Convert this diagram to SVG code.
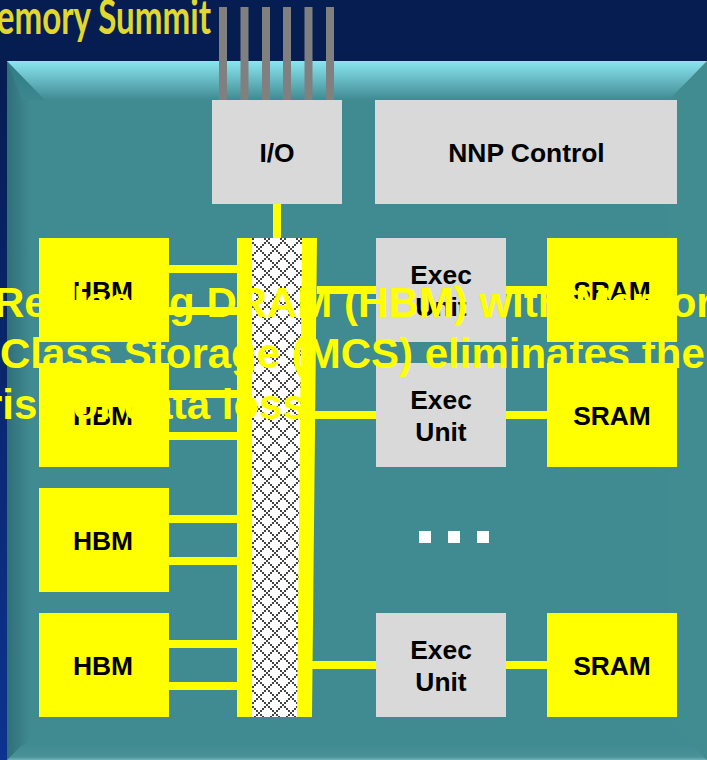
<svg xmlns="http://www.w3.org/2000/svg" width="707" height="760" viewBox="0 0 707 760">
<defs>
<linearGradient id="side" x1="0" y1="0" x2="0" y2="1"><stop offset="0" stop-color="#061d52"/><stop offset="1" stop-color="#0c3390"/></linearGradient>
<linearGradient id="bt" x1="0" y1="0" x2="0" y2="1"><stop offset="0" stop-color="#8ae6f0"/><stop offset="1" stop-color="#408a92"/></linearGradient>
<linearGradient id="bl" gradientUnits="userSpaceOnUse" x1="7" y1="0" x2="30" y2="0"><stop offset="0" stop-color="#2f6f78"/><stop offset="1" stop-color="#408a92"/></linearGradient>
<linearGradient id="tl" gradientUnits="userSpaceOnUse" x1="7" y1="61" x2="7" y2="110"><stop offset="0" stop-color="#2f7c84"/><stop offset="1" stop-color="#408a92"/></linearGradient>
<linearGradient id="bb" x1="0" y1="0" x2="0" y2="1"><stop offset="0" stop-color="#408a92"/><stop offset="0.8" stop-color="#4a9298"/><stop offset="1" stop-color="#70b4ba"/></linearGradient>
<pattern id="lattice" x="250" y="240" width="16" height="16" patternUnits="userSpaceOnUse">
<rect width="16" height="16" fill="#fff"/>
<path d="M0 0h2v2H0zM2 2h2v2H2zM4 4h2v2H4zM6 6h2v2H6zM8 8h2v2H8zM10 10h2v2h-2zM12 12h2v2h-2zM14 14h2v2h-2zM14 2h2v2h-2zM12 4h2v2h-2zM10 6h2v2h-2zM6 10h2v2H6zM4 12h2v2H4zM2 14h2v2H2z" fill="#444"/>
</pattern>
<style>
.lbl{font-family:"Liberation Sans",Arial,sans-serif;font-weight:bold;font-size:26.4px;fill:#000;text-anchor:middle}
.y{fill:#ff0}.g{fill:#d9d9d9}
.ov{font-family:"Liberation Sans",Arial,sans-serif;font-weight:bold;font-size:42px;fill:#ff0}
.c{stroke:#ff0;stroke-width:8;fill:none}
.pin{fill:#808080}
</style>
</defs>
<rect width="707" height="760" fill="#061d52"/>
<rect x="0" y="60" width="7" height="700" fill="url(#side)"/>
<text x="-34" y="34" font-family="Lato,'Liberation Sans',sans-serif" font-weight="700" font-size="47" fill="#e0d82e" textLength="245" lengthAdjust="spacingAndGlyphs">Memory Summit</text>
<g id="panel">
<rect x="7" y="61" width="700" height="699" fill="#408a92"/>
<polygon points="7,61 7,760 30,740 30,84" fill="url(#bl)"/>
<polygon points="7,61 45,100 22,100" fill="url(#tl)"/>
<polygon points="7,61 707,61 669,100 45,100" fill="url(#bt)"/>
<polygon points="707,61 669,100 669,722 707,760" fill="#45908f" opacity="0.35"/>
<polygon points="7,760 22,745 692,745 707,760" fill="url(#bb)"/>
</g>
<g id="connectors">
<path class="c" d="M277 204V238M169 269H237M169 311H237M169 394H237M169 436H237M169 519H237M169 561H237M169 644H237M169 686H237M317 290H376M506 290H547M315 415H376M506 415H547M312 665H376M506 665H547"/>
</g>
<g id="pins">
<rect class="pin" x="219" y="7" width="8" height="93"/>
<rect class="pin" x="240.500" y="7" width="8" height="93"/>
<rect class="pin" x="262" y="7" width="8" height="93"/>
<rect class="pin" x="283" y="7" width="8" height="93"/>
<rect class="pin" x="304.500" y="7" width="8" height="93"/>
<rect class="pin" x="326" y="7" width="8" height="93"/>
</g>
<g id="io"><rect class="g" x="212" y="100" width="130" height="104"/><text class="lbl" x="277" y="162">I/O</text></g>
<g id="nnp-control"><rect class="g" x="375" y="100" width="302" height="104"/><text class="lbl" x="526.500" y="162">NNP Control</text></g>
<g id="bus">
<rect x="252" y="238" width="50" height="479" fill="url(#lattice)" shape-rendering="crispEdges"/>
<rect class="y" x="237" y="238" width="15" height="479"/>
<polygon class="y" points="302,238 317,238 312,717 297,717"/>
</g>
<g id="hbm1"><rect class="y" x="39" y="238" width="130" height="104"/><text class="lbl" x="103" y="300">HBM</text></g>
<g id="hbm2"><rect class="y" x="39" y="363" width="130" height="104"/><text class="lbl" x="103" y="425">HBM</text></g>
<g id="hbm3"><rect class="y" x="39" y="488" width="130" height="104"/><text class="lbl" x="103" y="550">HBM</text></g>
<g id="hbm4"><rect class="y" x="39" y="613" width="130" height="104"/><text class="lbl" x="103" y="675">HBM</text></g>
<g id="exec1"><rect class="g" x="376" y="238" width="130" height="104"/><text class="lbl" x="441" y="284">Exec</text><text class="lbl" x="441" y="316">Unit</text></g>
<g id="exec2"><rect class="g" x="376" y="363" width="130" height="104"/><text class="lbl" x="441" y="409">Exec</text><text class="lbl" x="441" y="441">Unit</text></g>
<g id="exec3"><rect class="g" x="376" y="613" width="130" height="104"/><text class="lbl" x="441" y="659">Exec</text><text class="lbl" x="441" y="691">Unit</text></g>
<g id="sram1"><rect class="y" x="547" y="238" width="130" height="104"/><text class="lbl" x="612" y="300">SRAM</text></g>
<g id="sram2"><rect class="y" x="547" y="363" width="130" height="104"/><text class="lbl" x="612" y="425">SRAM</text></g>
<g id="sram3"><rect class="y" x="547" y="613" width="130" height="104"/><text class="lbl" x="612" y="675">SRAM</text></g>
<g id="ellipsis" fill="#fff"><rect x="419" y="531" width="12" height="12"/><rect x="448" y="531" width="12" height="12"/><rect x="477" y="531" width="12" height="12"/></g>
<g id="overlay">
<text class="ov" x="-6" y="317">Replacing DRAM (HBM) with Memory</text>
<text class="ov" x="0" y="368">Class Storage (MCS) eliminates the</text>
<text class="ov" x="-14" y="419">risk of data loss</text>
</g>
</svg>
